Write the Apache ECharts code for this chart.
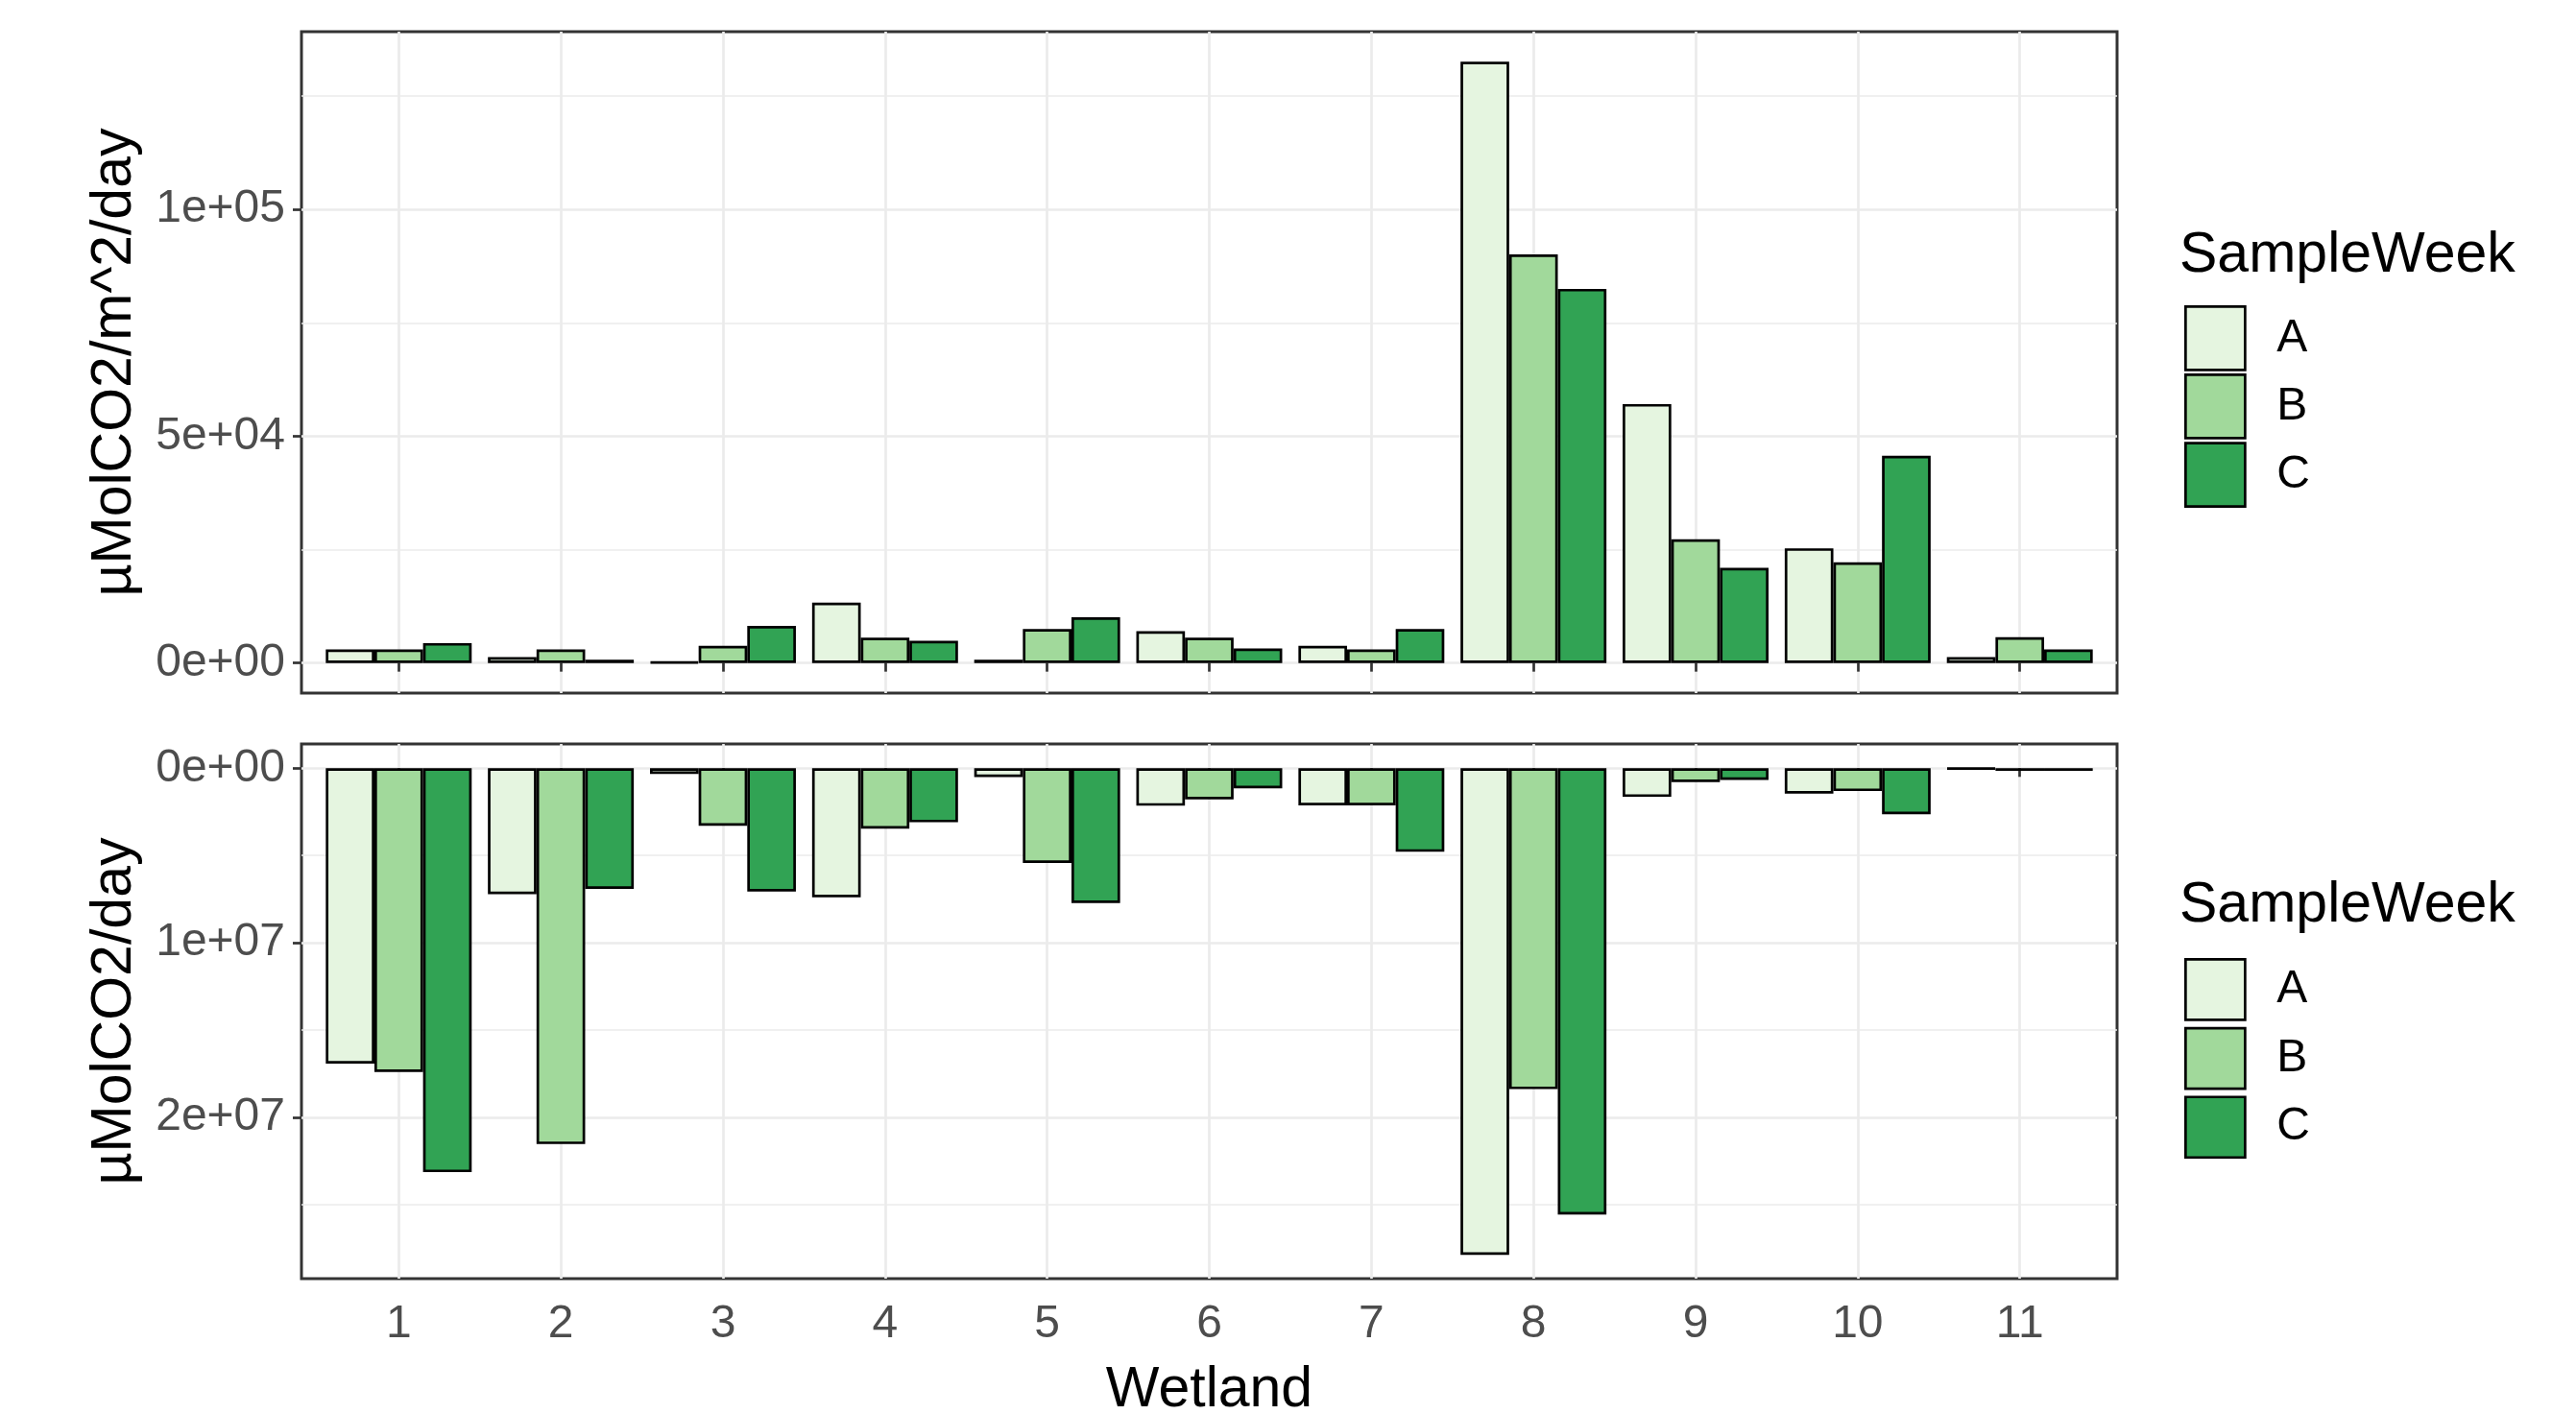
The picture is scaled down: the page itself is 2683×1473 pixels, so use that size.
<!DOCTYPE html>
<html>
<head>
<meta charset="utf-8">
<script src="https://cdn.jsdelivr.net/npm/echarts@6/dist/echarts.min.js"></script>
<style>
    html, body { margin: 0; padding: 0; background: #fff; }
    #main { width: 2683px; height: 1473px; }
</style>
</head>
<body>
<div id="main"></div>
<script>
var wetlands = [1, 2, 3, 4, 5, 6, 7, 8, 9, 10, 11];
var weeks = ['A', 'B', 'C'];

// µMolCO2/m^2/day (top panel)
var areaA = [3000, 1300, 200, 13300, 700, 7000, 3800, 132600, 57100, 25300, 1300];
var areaB = [3000, 3000, 3800, 5600, 7500, 5600, 3000, 90100, 27300, 22200, 5700];
var areaC = [4400, 700, 8200, 4900, 10100, 3200, 7500, 82500, 21000, 45700, 3000];

// µMolCO2/day (bottom panel, drawn downwards)
var totalA = [16930000, 7220000, 330000, 7400000, 510000, 2150000, 2130000, 27890000, 1640000, 1460000, 30000];
var totalB = [17410000, 21540000, 3300000, 3460000, 5430000, 1790000, 2130000, 18390000, 790000, 1310000, 150000];
var totalC = [23150000, 6910000, 7070000, 3100000, 7730000, 1150000, 4790000, 25580000, 670000, 2640000, 150000];

var areaTicks = [0, 50000, 100000];
var areaMinor = [25000, 75000, 125000];
var totalTicks = [0, 10000000, 20000000];
var totalMinor = [5000000, 15000000, 25000000];

var colors = ['#E5F5E0', '#A1D99B', '#31A354'];
var font = "'Liberation Sans', Arial, sans-serif";

var chart = echarts.init(document.getElementById('main'));

// 1e+05 style labels like R prints them
function sci(v) {
    if (v === 0) return '0e+00';
    var e = Math.floor(Math.log10(Math.abs(v)));
    var m = Math.round(v / Math.pow(10, e) * 100) / 100;
    return m + 'e+' + (e < 10 ? '0' : '') + e;
}

var tickLine = { color: '#333333', width: 2.7 };
var gridLine = { color: '#EBEBEB', width: 2.7 };
var minorLine = { color: '#EBEBEB', width: 1.6 };

function xAx(gi, withLabels) {
    var ax = {
        type: 'value', gridIndex: gi, min: 0.4, max: 11.6,
        axisLine: { show: false },
        axisTick: { show: true, length: 9, lineStyle: tickLine, customValues: wetlands },
        axisLabel: {
            show: withLabels, customValues: wetlands, margin: 24,
            fontSize: 48, color: '#4D4D4D', fontFamily: font
        },
        splitLine: { show: true, lineStyle: gridLine }
    };
    if (withLabels) {
        ax.name = 'Wetland';
        ax.nameLocation = 'middle';
        ax.nameGap = 87;
        ax.nameTextStyle = { fontSize: 59, color: '#000', fontFamily: font };
    }
    return ax;
}

function yMain(gi, min, max, ticks, title, inverse) {
    return {
        type: 'value', gridIndex: gi, min: min, max: max, inverse: inverse,
        position: 'left',
        axisLine: { show: false },
        axisTick: { show: true, length: 9, lineStyle: tickLine, customValues: ticks },
        axisLabel: {
            customValues: ticks, formatter: sci, margin: 17,
            fontSize: 48, color: '#4D4D4D', fontFamily: font
        },
        splitLine: { show: true, lineStyle: gridLine },
        name: title, nameLocation: 'middle', nameRotate: 90, nameGap: 165,
        nameTextStyle: { fontSize: 59, color: '#000', fontFamily: font }
    };
}

function yMinor(gi, min, max, ticks, inverse) {
    return {
        type: 'value', gridIndex: gi, min: min, max: max, inverse: inverse,
        axisLine: { show: false },
        axisTick: { show: false, customValues: ticks },
        axisLabel: { show: false, customValues: ticks },
        splitLine: { show: true, lineStyle: minorLine }
    };
}

function bars(name, vals, k, xi, yi) {
    return {
        name: name, type: 'bar', xAxisIndex: xi, yAxisIndex: yi,
        data: wetlands.map(function (w, i) { return [w, vals[i]]; }),
        barGap: '0%', barCategoryGap: '10%',
        itemStyle: { color: colors[k], borderColor: '#000', borderWidth: 2.7 },
        emphasis: { disabled: true }
    };
}

function legendAt(top, h, gap) {
    return {
        data: weeks, orient: 'vertical', left: 2275, top: top, padding: 0,
        icon: 'rect', itemWidth: 62, itemHeight: h, itemGap: gap,
        selectedMode: false,
        itemStyle: { borderColor: '#000', borderWidth: 2.7 },
        textStyle: { fontSize: 48, lineHeight: 50, color: '#000', fontFamily: font, padding: [0, 0, 0, 28] }
    };
}

chart.setOption({
    animation: false,
    backgroundColor: '#fff',
    title: [
        { text: 'SampleWeek', left: 2270, top: 237, padding: 0,
          textStyle: { fontSize: 59, fontWeight: 'normal', color: '#000', fontFamily: font } },
        { text: 'SampleWeek', left: 2270, top: 914, padding: 0,
          textStyle: { fontSize: 59, fontWeight: 'normal', color: '#000', fontFamily: font } }
    ],
    legend: [legendAt(318, 66, 2.4), legendAt(998, 63, 6)],
    grid: [
        { left: 314, top: 33, width: 1891, height: 689, show: true, outerBoundsMode: 'none',
          borderColor: '#333333', borderWidth: 3, backgroundColor: '#fff' },
        { left: 314, top: 775, width: 1891, height: 557, show: true, outerBoundsMode: 'none',
          borderColor: '#333333', borderWidth: 3, backgroundColor: '#fff' }
    ],
    xAxis: [xAx(0, false), xAx(1, true)],
    yAxis: [
        yMain(0, -6630, 139200, areaTicks, 'µMolCO2/m^2/day', false),
        yMinor(0, -6630, 139200, areaMinor, false),
        yMain(1, -1390000, 29250000, totalTicks, 'µMolCO2/day', true),
        yMinor(1, -1390000, 29250000, totalMinor, true)
    ],
    series: [
        bars('A', areaA, 0, 0, 0),
        bars('B', areaB, 1, 0, 0),
        bars('C', areaC, 2, 0, 0),
        bars('A', totalA, 0, 1, 2),
        bars('B', totalB, 1, 1, 2),
        bars('C', totalC, 2, 1, 2)
    ]
});
</script>
</body>
</html>
